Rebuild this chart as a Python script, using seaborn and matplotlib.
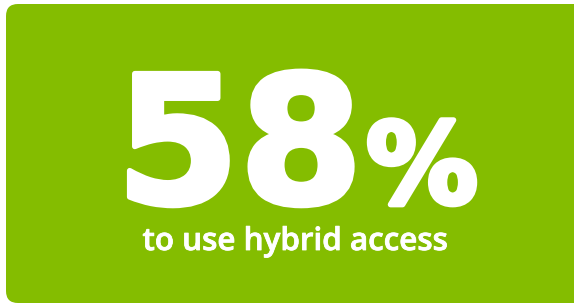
import matplotlib
matplotlib.use("Agg")
import matplotlib.pyplot as plt
import matplotlib.patheffects as pe
from matplotlib.patches import FancyBboxPatch
import seaborn as sns

# ==============================
# Data
# ==============================
value = [58]
unit = ["%"]
caption = ["to use hybrid access"]

CARD_COLOR = "#84bd00"

sns.set_theme(style="white")
plt.rcParams["font.family"] = ["DejaVu Sans"]

fig = plt.figure(figsize=(5.74, 3.08), dpi=100)
ax = fig.add_axes([0, 0, 1, 1])
ax.set_xlim(0, 574)
ax.set_ylim(308, 0)
ax.axis("off")

# card background (runs past the right edge)
card = FancyBboxPatch((6, 4), 600, 299, boxstyle="round,pad=0,rounding_size=12",
                      facecolor=CARD_COLOR, edgecolor="none")
ax.add_patch(card)


def fit_text(x, y, s, width, size, **kw):
    # scale the font so the text spans the wanted pixel width
    t = ax.text(x, y, s, fontsize=size, **kw)
    fig.canvas.draw()
    w = t.get_window_extent().width
    t.set_fontsize(size * width / w)
    return t


heavy = [pe.withStroke(linewidth=4, foreground="white")]
fit_text(116, 203, f"{value[0]}", 247, 140, color="white", fontweight="bold",
         ha="left", va="baseline", path_effects=heavy)
fit_text(366, 203, unit[0], 112, 90, color="white", fontweight="bold",
         ha="left", va="baseline", path_effects=heavy)

semi = [pe.withStroke(linewidth=0.6, foreground="white")]
fit_text(295, 250, caption[0], 305, 20, color="white", fontweight="semibold",
         family=["Open Sans", "DejaVu Sans"], ha="center", va="baseline",
         path_effects=semi)

plt.savefig("out.png", dpi=100)
